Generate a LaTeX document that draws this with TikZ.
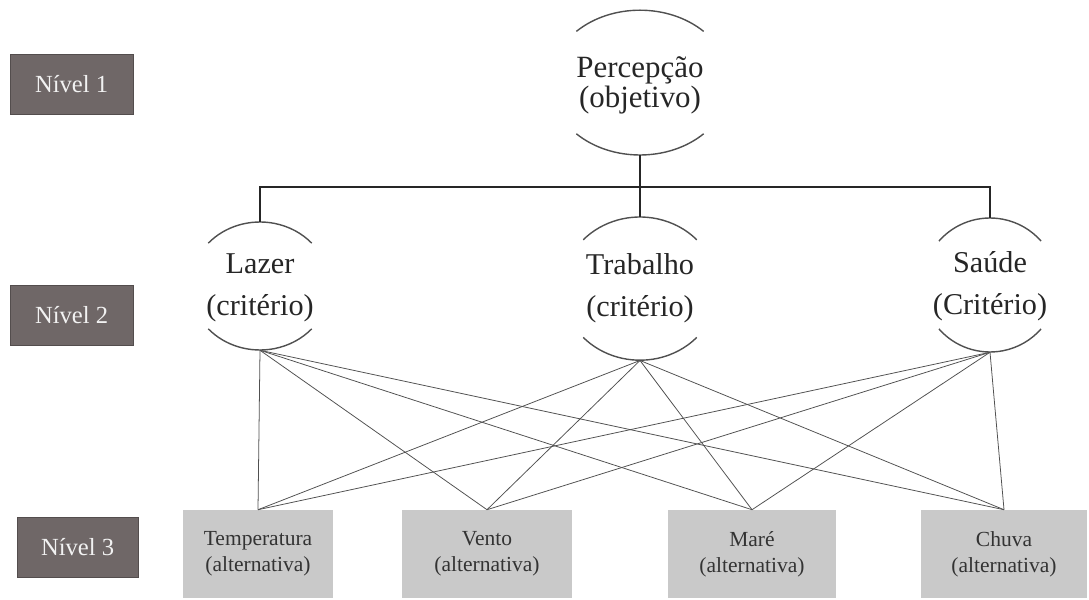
\documentclass[tikz,border=0pt]{standalone}
\usepackage{fontspec}
\setmainfont{Liberation Serif}
\usepackage{tikz}
\usetikzlibrary{shapes.geometric}

\definecolor{nivelcor}{RGB}{111,103,103}
\definecolor{altcor}{RGB}{201,201,201}
\definecolor{linhacor}{RGB}{80,80,80}

\tikzset{
	nivel/.style={draw=nivelcor!75!black, fill=nivelcor, text=white!90!gray, minimum width=3.075cm, minimum height=1.5cm, inner sep=0pt, font=\fontsize{17.5}{19}\selectfont},
	alt/.style={fill=altcor, minimum height=2.2cm, inner sep=0pt, align=center, text=black!80, font=\fontsize{15.3}{18.5}\selectfont},
	crit/.style={ellipse, inner sep=0pt},
	crittexto/.style={align=center, text=black!85, font=\fontsize{21.5}{30}\selectfont},
	objtexto/.style={align=center, text=black!85, font=\fontsize{22}{21.5}\selectfont},
	arco/.style={draw=linhacor, line width=1pt},
	arvore/.style={draw=black!85, line width=0.9pt},
	ligacao/.style={draw=linhacor, line width=0.55pt},
}

\begin{document}
\begin{tikzpicture}
			\useasboundingbox (0,0) rectangle (27.225,14.975);

			% niveis
			\node[nivel] (n1) at (1.79,12.875) {Nível 1};
			\node[nivel] (n2) at (1.79,7.1) {Nível 2};
			\node[nivel, minimum width=3.025cm] (n3) at (1.94,1.3) {Nível 3};

			% objetivo
			\node[crit, minimum width=4.5cm, minimum height=3.62cm] (perc) at (16,12.91) {};
			\node[objtexto] (perctxt) at (16,12.85) {Percepção\\(objetivo)};
			\draw[arco] (perc.center) ++(135:2.25 and 1.81) arc[start angle=135,end angle=45,x radius=2.25,y radius=1.81];
			\draw[arco] (perc.center) ++(225:2.25 and 1.81) arc[start angle=225,end angle=315,x radius=2.25,y radius=1.81];

			% criterios
			\node[crit, minimum width=3.48cm, minimum height=3.2cm] (lazer) at (6.5,7.825) {};
			\node[crittexto] (lazertxt) at (6.5,7.77) {Lazer\\(critério)};
			\draw[arco] (lazer.center) ++(138:1.74 and 1.6) arc[start angle=138,end angle=42,x radius=1.74,y radius=1.6];
			\draw[arco] (lazer.center) ++(222:1.74 and 1.6) arc[start angle=222,end angle=318,x radius=1.74,y radius=1.6];

			\node[crit, minimum width=3.88cm, minimum height=3.58cm] (trab) at (16,7.76) {};
			\node[crittexto] (trabtxt) at (16,7.76) {Trabalho\\(critério)};
			\draw[arco] (trab.center) ++(137:1.94 and 1.79) arc[start angle=137,end angle=43,x radius=1.94,y radius=1.79];
			\draw[arco] (trab.center) ++(223:1.94 and 1.79) arc[start angle=223,end angle=317,x radius=1.94,y radius=1.79];

			\node[crit, minimum width=3.38cm, minimum height=3.35cm] (saude) at (24.75,7.85) {};
			\node[crittexto] (saudetxt) at (24.75,7.82) {Saúde\\(Critério)};
			\draw[arco] (saude.center) ++(139:1.69 and 1.675) arc[start angle=139,end angle=41,x radius=1.69,y radius=1.675];
			\draw[arco] (saude.center) ++(221:1.69 and 1.675) arc[start angle=221,end angle=319,x radius=1.69,y radius=1.675];

			% alternativas
			\node[alt, minimum width=3.75cm] (temp) at (6.45,1.125) {Temperatura\\(alternativa)};
			\node[alt, minimum width=4.25cm] (vento) at (12.175,1.125) {Vento\\(alternativa)};
			\node[alt, minimum width=4.2cm] (mare) at (18.8,1.125) {Maré\\(alternativa)};
			\node[alt, minimum width=4.15cm] (chuva) at (25.1,1.125) {Chuva\\(alternativa)};

			% arvore
			\coordinate (ramo) at (16,10.3);
			\draw[arvore, line width=1.6pt] (perc.south) -- (ramo);
			\draw[arvore] (ramo) -| (lazer.north);
			\draw[arvore] (ramo) -- (trab.north);
			\draw[arvore] (ramo) -| (saude.north);

			% ligacoes
			\draw[ligacao] (lazer.south) -- (temp.north);
			\draw[ligacao] (lazer.south) -- (vento.north);
			\draw[ligacao] (lazer.south) -- (mare.north);
			\draw[ligacao] (lazer.south) -- (chuva.north);
			\draw[ligacao] (trab.south) -- (temp.north);
			\draw[ligacao] (trab.south) -- (vento.north);
			\draw[ligacao] (trab.south) -- (mare.north);
			\draw[ligacao] (trab.south) -- (chuva.north);
			\draw[ligacao] (saude.south) -- (temp.north);
			\draw[ligacao] (saude.south) -- (vento.north);
			\draw[ligacao] (saude.south) -- (mare.north);
			\draw[ligacao] (saude.south) -- (chuva.north);
		\end{tikzpicture}
\end{document}
